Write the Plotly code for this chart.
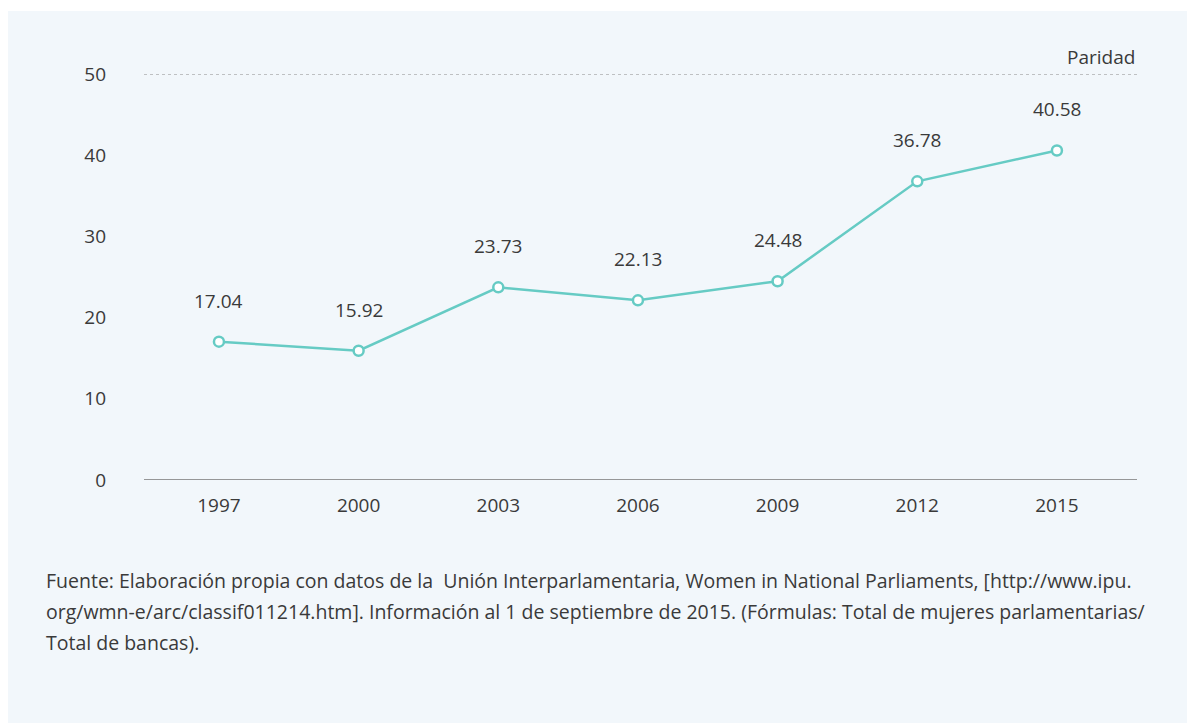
import plotly.graph_objects as go

years = [1997, 2000, 2003, 2006, 2009, 2012, 2015]
values = [17.04, 15.92, 23.73, 22.13, 24.48, 36.78, 40.58]
y_ticks = [0, 10, 20, 30, 40, 50]
parity_level = 50
parity_label = "Paridad"
footnote_lines = [
    "Fuente: Elaboración propia con datos de la  Unión Interparlamentaria, Women in National Parliaments, [http://www.ipu.",
    "org/wmn-e/arc/classif011214.htm]. Información al 1 de septiembre de 2015. (Fórmulas: Total de mujeres parlamentarias/",
    "Total de bancas).",
]

FONT = "Open Sans"
TEXT = "#3a3a3a"
TEAL = "#66cbc4"
PANEL = "#f2f7fb"

OFF = 8  # page body margin
W, H = 1195 - OFF, 723 - OFF
# plot area in screen pixels
L, R, T, B = 144, 1137, 74, 480
pw, ph = R - L, B - T

def px_x(px):
    return (px - L) / pw

def px_y(py):
    return (B - py) / ph

fig = go.Figure()
fig.add_trace(go.Scatter(
    x=years, y=values, mode="lines+markers",
    line=dict(color=TEAL, width=2.5),
    marker=dict(symbol="circle", size=10, color="white", line=dict(color=TEAL, width=2.5)),
    hoverinfo="x+y", showlegend=False,
))

annotations = []
for xv, yv in zip(years, values):
    annotations.append(dict(
        x=xv, y=yv, xref="x", yref="y", text=f"{yv:.2f}", showarrow=False,
        yshift=41, font=dict(family=FONT, size=19, color=TEXT),
    ))
annotations.append(dict(
    x=1, y=parity_level, xref="paper", yref="y", text=parity_label, showarrow=False,
    xanchor="right", yanchor="bottom", yshift=2,
    font=dict(family=FONT, size=19, color=TEXT),
))
for i, line in enumerate(footnote_lines):
    annotations.append(dict(
        x=px_x(44), y=px_y(580 + 31 * i), xref="paper", yref="paper", text=line,
        showarrow=False, xanchor="left", yanchor="middle",
        font=dict(family=FONT, size=19.5, color=TEXT),
    ))

shapes = [
    dict(type="rect", xref="paper", yref="paper", x0=px_x(8), x1=px_x(1210),
         y0=px_y(740), y1=px_y(11), fillcolor=PANEL, line=dict(width=0), layer="below"),
    dict(type="line", xref="paper", yref="y", x0=0, x1=1, y0=parity_level, y1=parity_level,
         line=dict(color="#8a8a8a", width=1, dash="dot"), layer="below"),
    dict(type="line", xref="paper", yref="y", x0=0, x1=1, y0=0, y1=0,
         line=dict(color="#777777", width=1.5), layer="below"),
]

fig.update_layout(
    width=W, height=H,
    margin=dict(l=L - OFF, r=1195 - R, t=T - OFF, b=723 - B, autoexpand=False),
    paper_bgcolor="white", plot_bgcolor="rgba(0,0,0,0)",
    font=dict(family=FONT, size=19, color=TEXT),
    xaxis=dict(
        range=[1995.39, 2016.72], tickvals=years, ticktext=[str(y) for y in years],
        showgrid=False, zeroline=False, showline=False, ticks="",
        ticklabelstandoff=12, tickfont=dict(family=FONT, size=19, color=TEXT),
    ),
    yaxis=dict(
        range=[0, 50], tickvals=y_ticks, ticktext=[str(v) for v in y_ticks],
        showgrid=False, zeroline=False, showline=False, ticks="",
        ticklabelstandoff=37, tickfont=dict(family=FONT, size=19, color=TEXT),
    ),
    shapes=shapes, annotations=annotations,
)

fig.write_html("out.html")
